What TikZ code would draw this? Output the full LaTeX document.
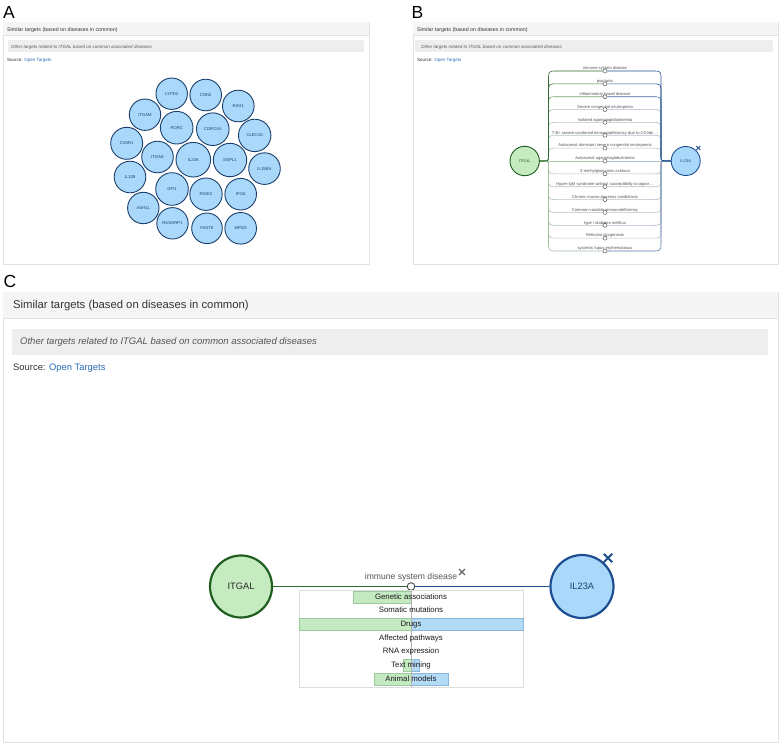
\documentclass[tikz,border=0pt]{standalone}
\usepackage{fontspec}
\setmainfont{Liberation Sans}
\definecolor{hdrfill}{HTML}{F5F5F5}
\definecolor{boxline}{HTML}{E2E2E2}
\definecolor{bandfill}{HTML}{EEEEEE}
\definecolor{txt}{HTML}{333333}
\definecolor{txtgray}{HTML}{555555}
\definecolor{linkblue}{HTML}{2A6EBB}
\definecolor{lblue}{HTML}{AAD8FA}
\definecolor{navy}{HTML}{1B3F6B}
\definecolor{lgreen}{HTML}{C6EBC1}
\definecolor{dgreen}{HTML}{1F5E1F}
\definecolor{lnblue}{HTML}{1D4E8F}
\definecolor{lngreen}{HTML}{2F6B2F}
\definecolor{ltgreen}{HTML}{BFD4BF}
\definecolor{ltblue}{HTML}{C2CAD4}
\definecolor{bargreen}{HTML}{C4EAC1}
\definecolor{bargreenline}{HTML}{9CC99A}
\definecolor{barblue}{HTML}{B4DBF6}
\definecolor{barblueline}{HTML}{88B6DC}
\definecolor{evline}{HTML}{DDDDDD}
\newcommand\fsz[1]{\fontsize{#1}{#1}\selectfont}
\newcommand\tdots{...}
\pgfdeclarelayer{back}
\pgfdeclarelayer{bg}
\pgfsetlayers{back,bg,main}
\tikzset{
  tx/.style={inner sep=0, anchor=mid west, text=txt},
  plabel/.style={inner sep=0, anchor=base west, font=\fsz{17.5}, text=black},
  frame/.style={draw=boxline, fill=white, line width=0.6},
  acirc/.style={circle, draw=navy, fill=lblue, line width=0.9, inner sep=0, text=navy, font=\fsz{4.2}},
  bgcirc/.style={circle, draw=dgreen, fill=lgreen, line width=0.9, inner sep=0, text=dgreen, font=\fsz{4}},
  bbcirc/.style={circle, draw=lnblue, fill=lblue, line width=0.9, inner sep=0, text=navy, font=\fsz{4}},
  dot/.style={circle, draw=black!65, fill=white, line width=0.5, inner sep=0, minimum size=4},
  gbar/.style={fill=bargreen, draw=bargreenline, line width=0.5},
  bbar/.style={fill=barblue, draw=barblueline, line width=0.5},
  evtext/.style={inner sep=0, anchor=mid, font=\fsz{7.8}, text=black!90},
}
\begin{document}
\begin{tikzpicture}[x=1pt,y=-1pt]
\useasboundingbox (0,0) rectangle (782,745);
\begin{pgfonlayer}{back}
\fill[white] (0,0) rectangle (782,745);
% frames A
\draw[frame] (3,22) rectangle (369,264);
\fill[hdrfill] (3.4,22.4) rectangle (368.6,35);
\draw[boxline, line width=0.6] (3,35) -- (369,35);
\fill[bandfill] (8,40) rectangle (364,52);
% frames B
\draw[frame] (413,22) rectangle (778,264);
\fill[hdrfill] (413.4,22.4) rectangle (777.6,35);
\draw[boxline, line width=0.6] (413,35) -- (778,35);
\fill[bandfill] (415,40) rectangle (773,52);
% frames C
\draw[frame] (3,292) rectangle (778,742);
\fill[hdrfill] (3.4,292.4) rectangle (777.6,318);
\draw[boxline, line width=0.6] (3,318) -- (778,318);
\fill[bandfill] (12,329) rectangle (768,355);
\end{pgfonlayer}

% ---------------- Panel A ----------------
\node[plabel] (labA) at (3,18.3) {A};
\node[tx, font=\fsz{5.3}] (aH) at (7,29) {Similar targets (based on diseases in common)};
\node[tx, font=\fsz{4.5}\itshape, text=txtgray] (aI) at (11,46) {Other targets related to ITGAL based on common associated diseases};
\node[tx, font=\fsz{4.5}] (aS) at (7,59) {Source: \textcolor{linkblue}{Open Targets}};
\foreach \x/\y/\r/\t in {171.7/93.7/15.7/LYPD2, 205.7/95/15.8/CNN2, 238.3/106/15.8/RAG1,
  145/114.7/15.7/ITGAM, 176.7/127.7/16.3/RORC, 212.8/129.2/16.3/CORO1A, 254.7/135.4/16.2/CLEC4A,
  126.7/143.3/16/C3AR1, 157.5/157/15.8/ITGAE, 193.3/159.7/17.3/IL23A, 230/160/16.7/SGPL1,
  264.5/168.6/15.8/IL15RA, 130/177/15.8/IL12B, 172/189/16.3/GFI1, 206/194.2/16.2/RIOK2,
  240.7/194.2/15.8/IFI16, 143.3/208/15.7/ASH1L, 172.5/223.3/15.7/RASGRP1, 207/228.3/15.3/FASTK,
  240.7/228.3/15.8/MFNG}
  \node[acirc, minimum size=2*\r] (a-\t) at (\x,\y) {\t};

% ---------------- Panel B ----------------
\node[plabel] (labB) at (411.5,18.3) {B};
\node[tx, font=\fsz{5.3}] (bH) at (417,29) {Similar targets (based on diseases in common)};
\node[tx, font=\fsz{4.5}\itshape, text=txtgray] (bIt) at (421,46) {Other targets related to ITGAL based on common associated diseases};
\node[tx, font=\fsz{4.5}] (bS) at (417,59) {Source: \textcolor{linkblue}{Open Targets}};

\node[bgcirc, minimum size=29.4] (bI) at (524.7,161) {ITGAL};
\node[bbcirc, minimum size=29] (bL) at (685.7,161) {IL23A};
\draw[lnblue, line width=0.9] (696.3,146) -- (700.3,150) (696.3,150) -- (700.3,146);

\foreach \k/\nm/\lo/\ro in {
  13/Reticular dysgenesis/10/10,
  12/type I diabetes mellitus/15/15,
  11/Common variable immunodeficiency/15/10,
  10/Chronic mucocutaneous candidiasis/10/10,
  9/Hyper-IgM syndrome without susceptibility to oppor \tdots/10/10,
  8/3-methylglutaconic aciduria/10/10,
  7/Autosomal agammaglobulinemia/10/10,
  6/Autosomal dominant severe congenital neutropenia/10/10,
  5/T-B+ severe combined immunodeficiency due to CD3de \tdots/10/10,
  4/Isolated agammaglobulinemia/10/10,
  3/Severe congenital neutropenia/15/15,
  14/systemic lupus erythematosus/20/65,
  2/inflammatory bowel disease/50/75,
  1/psoriasis/90/95,
  0/immune system disease/100/100}{
  \pgfmathsetmacro\yk{161+12.86*(\k-7)}
  \pgfmathsetmacro\s{ifthenelse(\k<7,-1,1)}
  \node[dot] (d\k) at (605,\yk) {};
  \node[inner sep=0, anchor=mid, font=\fsz{4.1}, text=txtgray] (t\k) at (605,\yk-3.9) {\nm};
  \begin{pgfonlayer}{bg}
  \ifnum\k=7
    \draw[lngreen!\lo!ltgreen, line width=0.6] (bI.east) -- (d\k.west);
    \draw[lnblue!\ro!ltblue, line width=0.6] (d\k.east) -- (bL.west);
  \else
    \draw[lngreen!\lo!ltgreen, line width=0.6] (bI.east) .. controls (548.5,161) .. (548.5,{161+\s*4})
       -- (548.5,{\yk-\s*9}) .. controls (548.5,\yk) .. (557.5,\yk) -- (d\k.west);
    \draw[lnblue!\ro!ltblue, line width=0.6] (d\k.east) -- (652,\yk) .. controls (661,\yk) .. (661,{\yk-\s*9})
       -- (661,{161+\s*4}) .. controls (661,161) .. (bL.west);
  \fi
  \end{pgfonlayer}
}

% ---------------- Panel C ----------------
\node[plabel] (labC) at (3.5,287) {C};
\node[tx, font=\fsz{11.3}] (cH) at (13,306) {Similar targets (based on diseases in common)};
\node[tx, font=\fsz{9.5}\itshape, text=txtgray] (cIt) at (20,342) {Other targets related to ITGAL based on common associated diseases};
\node[tx, font=\fsz{9.4}] (cS) at (13,368) {Source: \textcolor{linkblue}{Open Targets}};

\node[circle, draw=dgreen, fill=lgreen, line width=2.2, inner sep=0, minimum size=62, font=\fsz{9.3}, text=black!85] (cI) at (241,586.5) {ITGAL};
\node[circle, draw=lnblue, fill=lblue, line width=2.2, inner sep=0, minimum size=63, font=\fsz{9.3}, text=navy] (cL) at (582,586.5) {IL23A};
\node[circle, draw=black!70, fill=white, line width=0.9, inner sep=0, minimum size=7.6] (cD) at (411,586.5) {};
\begin{pgfonlayer}{bg}
\draw[lngreen, line width=1.4] (cI) -- (cD);
\draw[lnblue, line width=1.4] (cD) -- (cL);
\end{pgfonlayer}
\node[inner sep=0, anchor=mid, font=\fsz{8.6}, text=txtgray] (cT) at (411,577) {immune system disease};
\draw[black!60, line width=1.2] (459,569) -- (465,575) (459,575) -- (465,569);
\draw[lnblue, line width=2] (603.8,553.8) -- (612.2,562.2) (603.8,562.2) -- (612.2,553.8);

\draw[evline, fill=white, line width=0.6] (299,590.5) rectangle (523.5,687);
\draw[gbar] (353,591.5) rectangle (411,603);
\draw[gbar] (299,618.5) rectangle (411,630);
\draw[bbar] (411,618.5) rectangle (523.5,630);
\draw[gbar] (403.5,659.5) rectangle (411,671);
\draw[bbar] (411,659.5) rectangle (419,671);
\draw[gbar] (374,673.5) rectangle (411,685);
\draw[bbar] (411,673.5) rectangle (448,685);
\draw[black!30, line width=0.5] (411,590.5) -- (411,687);
\node[evtext] (e1) at (411,597.3) {Genetic associations};
\node[evtext] (e2) at (411,610.3) {Somatic mutations};
\node[evtext] (e3) at (411,624.3) {Drugs};
\node[evtext] (e4) at (411,637.7) {Affected pathways};
\node[evtext] (e5) at (411,651.3) {RNA expression};
\node[evtext] (e6) at (411,665.3) {Text mining};
\node[evtext] (e7) at (411,678.7) {Animal models};
\end{tikzpicture}
\end{document}
